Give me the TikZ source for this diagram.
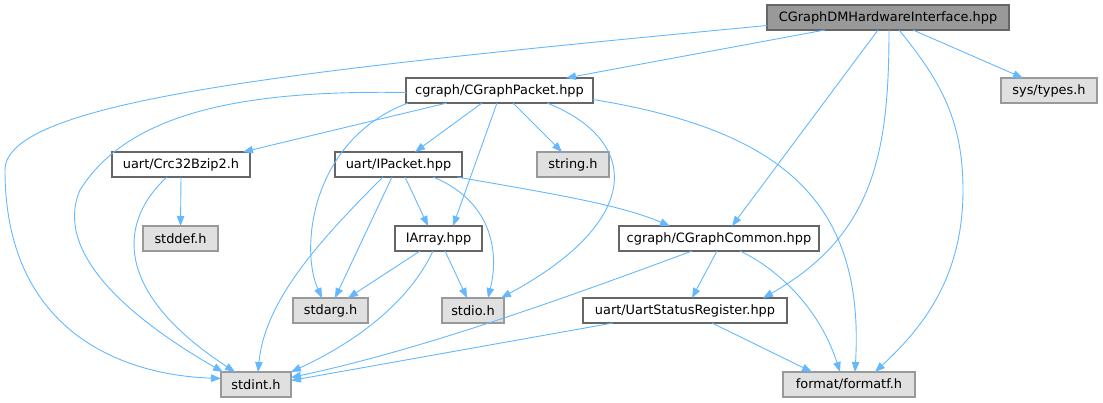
\documentclass[tikz,border=0pt]{standalone}
\usepackage{fontspec}
\setmainfont{DejaVu Sans}
\usepackage{xcolor}
\definecolor{depblue}{HTML}{63B8FF}
\definecolor{hdrline}{HTML}{666666}
\definecolor{sysline}{HTML}{999999}
\definecolor{sysfill}{HTML}{E0E0E0}
\usetikzlibrary{arrows.meta}

\begin{document}
\begin{tikzpicture}[
  x=1pt, y=-1pt,
  font=\fontsize{12.9pt}{14pt}\selectfont,
  file/.style={draw=hdrline, line width=1.1pt, fill=white, minimum height=25pt,
               inner sep=0pt, outer sep=0pt},
  mainfile/.style={file, fill=sysline},
  syshdr/.style={file, draw=sysline, fill=sysfill},
  dep/.style={-{Triangle[length=10pt, width=7.5pt]}, depblue, line width=0.9pt}
]
  \useasboundingbox (0,0) rectangle (1103,403);

  % row 0
  \node[mainfile, minimum width=242pt] (main)    at (888,17.5)   {CGraphDMHardwareInterface.hpp};
  % row 1
  \node[file,   minimum width=187pt] (packet)  at (499.5,90.5) {cgraph/CGraphPacket.hpp};
  \node[syshdr, minimum width=96pt]  (types)   at (1049,90.5)  {sys/types.h};
  % row 2
  \node[file,   minimum width=138pt] (crc)     at (181,164.5)  {uart/Crc32Bzip2.h};
  \node[file,   minimum width=127pt] (ipacket) at (398.5,164.5){uart/IPacket.hpp};
  \node[syshdr, minimum width=72pt]  (string)  at (573,164.5)  {string.h};
  % row 3
  \node[syshdr, minimum width=75pt]  (stddef)  at (180.5,238.5){stddef.h};
  \node[file,   minimum width=87pt]  (iarray)  at (438.5,238.5){IArray.hpp};
  \node[file,   minimum width=200pt] (common)  at (719,238.5)  {cgraph/CGraphCommon.hpp};
  % row 4
  \node[syshdr, minimum width=75pt]  (stdarg)  at (330.5,310.5){stdarg.h};
  \node[syshdr, minimum width=62pt]  (stdio)   at (473,310.5)  {stdio.h};
  \node[file,   minimum width=204pt] (uartsr)  at (685,310.5)  {uart/UartStatusRegister.hpp};
  % row 5
  \node[syshdr, minimum width=70pt]  (stdint)  at (256,384.5)  {stdint.h};
  \node[syshdr, minimum width=132pt] (formatf) at (849,384.5)  {format/formatf.h};

  % includes of the main file
  \draw[dep] ([xshift=25pt]main.south) -- ([xshift=-26pt]types.north);
  \draw[dep] ([xshift=-63pt]main.south) -- ([xshift=66.5pt]packet.north);
  \draw[dep] ([xshift=-10pt]main.south) -- ([xshift=13pt]common.north);
  \draw[dep] ([xshift=1pt]main.south) .. controls (889,150) and (875,235) .. ([xshift=78pt]uartsr.north);
  \draw[dep] ([xshift=11pt]main.south) .. controls (940,80) and (963,120) .. (963,190)
             .. controls (963,280) and (920,330) .. ([xshift=26pt]formatf.north);
  \draw[dep] ([yshift=-8pt]main.west) .. controls (300,70) and (5,100) .. (5,170)
             .. controls (5,330) and (120,375) .. ([yshift=6pt]stdint.west);

  % cgraph/CGraphPacket.hpp
  \draw[dep] ([yshift=-2pt]packet.west) .. controls (250,90) and (130,110) .. (80,190)
             .. controls (50,260) and (150,330) .. ([xshift=-33pt]stdint.north);
  \draw[dep] ([xshift=-52.5pt]packet.south) -- ([xshift=62pt]crc.north);
  \draw[dep] ([xshift=2pt]packet.south west) .. controls (310,140) and (300,250) .. ([xshift=-8.5pt]stdarg.north);
  \draw[dep] ([xshift=-17.5pt]packet.south) -- ([xshift=16.5pt]ipacket.north);
  \draw[dep] ([xshift=-2.5pt]packet.south) -- ([xshift=14.5pt]iarray.north);
  \draw[dep] ([xshift=13.5pt]packet.south) -- ([xshift=-11pt]string.north);
  \draw[dep] ([xshift=47.5pt]packet.south) .. controls (640,140) and (645,220) .. ([xshift=28pt]stdio.north);
  \draw[dep] ([yshift=-9pt]packet.east) .. controls (780,130) and (865,200) .. ([xshift=6pt]formatf.north);

  % uart/Crc32Bzip2.h
  \draw[dep] (crc.south) -- (stddef.north);
  \draw[dep] ([xshift=-14pt]crc.south) .. controls (120,220) and (110,290) .. ([xshift=-21pt]stdint.north);

  % uart/IPacket.hpp
  \draw[dep] ([xshift=-15.5pt]ipacket.south) .. controls (320,240) and (265,300) .. ([xshift=2pt]stdint.north);
  \draw[dep] ([xshift=-6.5pt]ipacket.south) -- ([xshift=4.5pt]stdarg.north);
  \draw[dep] ([xshift=6.5pt]ipacket.south) -- ([xshift=-10.5pt]iarray.north);
  \draw[dep] ([xshift=34.5pt]ipacket.south) .. controls (490,200) and (500,250) .. ([xshift=15pt]stdio.north);
  \draw[dep] ([xshift=58.5pt]ipacket.south) .. controls (560,195) and (620,205) .. ([xshift=-49pt]common.north);

  % IArray.hpp
  \draw[dep] ([xshift=-18.5pt]iarray.south) -- ([xshift=17.5pt]stdarg.north);
  \draw[dep] ([xshift=6.5pt]iarray.south) -- ([xshift=-6pt]stdio.north);
  \draw[dep] ([xshift=-5.5pt]iarray.south) .. controls (410,300) and (360,340) .. (stdint.north east);

  % cgraph/CGraphCommon.hpp
  \draw[dep] ([xshift=-2pt]common.south) -- ([xshift=7pt]uartsr.north);
  \draw[dep] ([xshift=21pt]common.south) .. controls (780,270) and (820,310) .. ([xshift=-9pt]formatf.north);
  \draw[dep] ([xshift=-27pt]common.south) .. controls (560,300) and (420,350) .. ([yshift=7pt]stdint.east);

  % uart/UartStatusRegister.hpp
  \draw[dep] ([xshift=27pt]uartsr.south) -- ([xshift=-37pt]formatf.north);
  \draw[dep] ([xshift=-72pt]uartsr.south) -- ([yshift=4pt]stdint.east);
\end{tikzpicture}
\end{document}
